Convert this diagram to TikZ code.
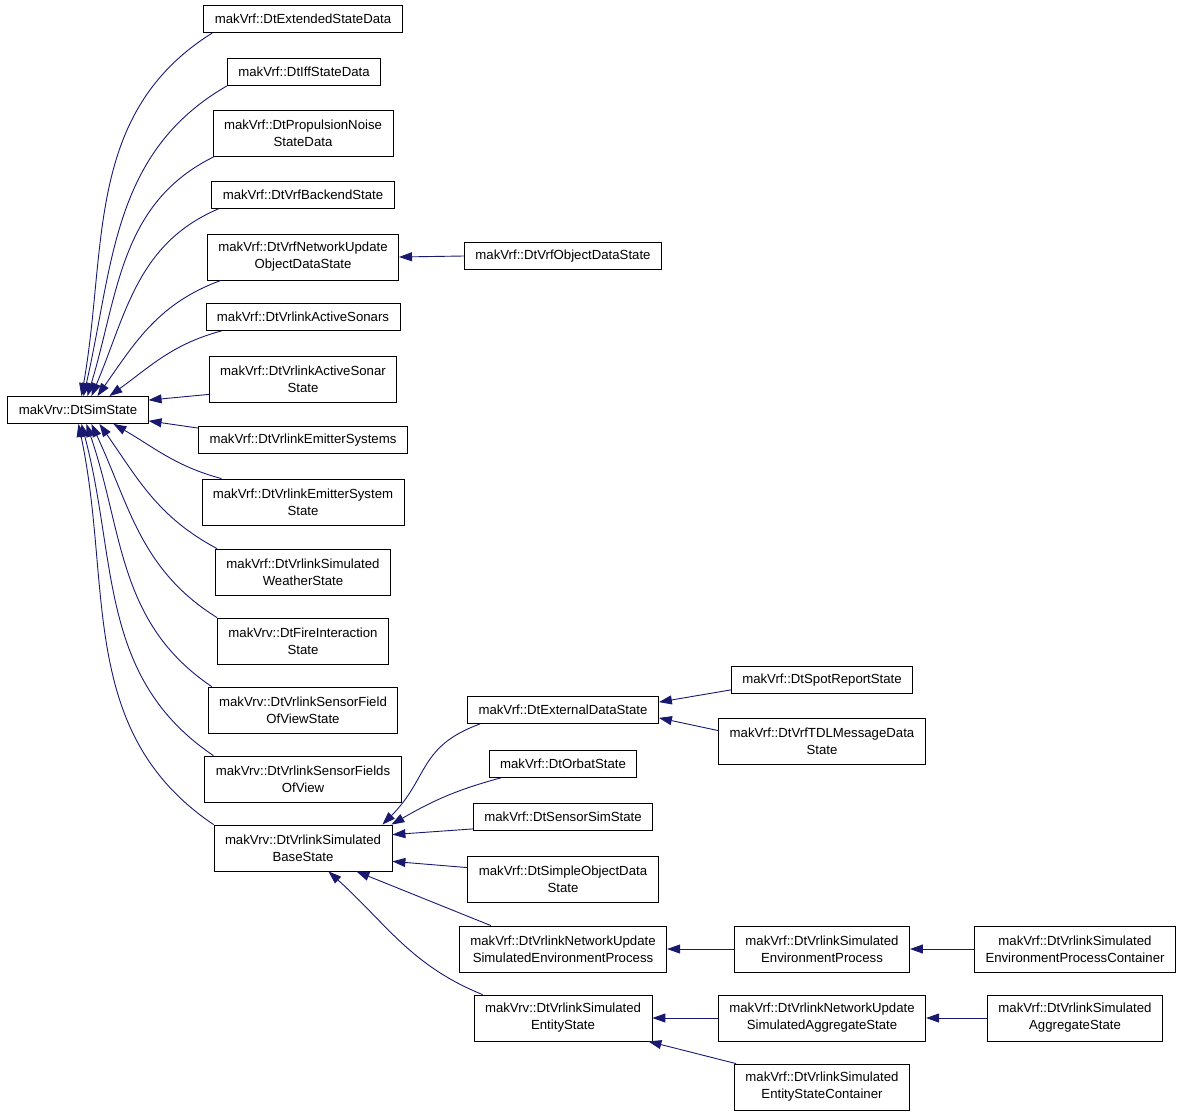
\documentclass[tikz,border=0pt]{standalone}
\usepackage{fontspec}
\setmainfont{Liberation Sans}
\usetikzlibrary{arrows.meta}
\definecolor{edgeblue}{RGB}{25,25,112}

\begin{document}
\begin{tikzpicture}[x=1pt,y=1pt]
\tikzstyle{cls}=[draw=black,line width=0.8pt,fill=white,inner xsep=11pt,inner ysep=0pt,
  minimum height=27pt,align=center,font=\fontsize{13.2}{17}\selectfont]
\tikzstyle{cls2}=[cls,minimum height=46pt]
\tikzstyle{inh}=[draw=edgeblue,line width=0.9pt,{Triangle[length=13pt,width=9pt,fill=edgeblue]}-]
\useasboundingbox (0,0) rectangle (1181,-1116);

\node[cls] (sim) at (78,-410) {makVrv::DtSimState};

\node[cls] (ext) at (303,-19) {makVrf::DtExtendedStateData};
\node[cls] (iff) at (304,-72) {makVrf::DtIffStateData};
\node[cls2] (prop) at (303,-133) {makVrf::DtPropulsionNoise\\StateData};
\node[cls] (backend) at (303,-195) {makVrf::DtVrfBackendState};
\node[cls2] (netupd) at (303,-257) {makVrf::DtVrfNetworkUpdate\\ObjectDataState};
\node[cls] (objdata) at (563,-256) {makVrf::DtVrfObjectDataState};
\node[cls] (sonars) at (303,-317) {makVrf::DtVrlinkActiveSonars};
\node[cls2] (sonarst) at (303,-379) {makVrf::DtVrlinkActiveSonar\\State};
\node[cls] (emsys) at (303,-440) {makVrf::DtVrlinkEmitterSystems};
\node[cls2] (emsyst) at (303,-502) {makVrf::DtVrlinkEmitterSystem\\State};
\node[cls2] (weather) at (303,-572) {makVrf::DtVrlinkSimulated\\WeatherState};
\node[cls2] (fire) at (303,-641) {makVrv::DtFireInteraction\\State};
\node[cls2] (sfield) at (303,-710) {makVrv::DtVrlinkSensorField\\OfViewState};
\node[cls2] (sfields) at (303,-779) {makVrv::DtVrlinkSensorFields\\OfView};
\node[cls2] (base) at (303,-848) {makVrv::DtVrlinkSimulated\\BaseState};

\node[cls] (extdata) at (563,-710) {makVrf::DtExternalDataState};
\node[cls] (orbat) at (563,-764) {makVrf::DtOrbatState};
\node[cls] (sensim) at (563,-817) {makVrf::DtSensorSimState};
\node[cls2] (simple) at (563,-879) {makVrf::DtSimpleObjectData\\State};
\node[cls2] (nuenv) at (563,-949) {makVrf::DtVrlinkNetworkUpdate\\SimulatedEnvironmentProcess};
\node[cls2] (entity) at (563,-1018) {makVrv::DtVrlinkSimulated\\EntityState};

\node[cls] (spot) at (822,-680) {makVrf::DtSpotReportState};
\node[cls2] (tdl) at (822,-741) {makVrf::DtVrfTDLMessageData\\State};
\node[cls2] (envproc) at (822,-949) {makVrf::DtVrlinkSimulated\\EnvironmentProcess};
\node[cls2] (netagg) at (822,-1018) {makVrf::DtVrlinkNetworkUpdate\\SimulatedAggregateState};
\node[cls2] (cont) at (822,-1087) {makVrf::DtVrlinkSimulated\\EntityStateContainer};
\node[cls2] (envcont) at (1075,-949) {makVrf::DtVrlinkSimulated\\EnvironmentProcessContainer};
\node[cls2] (agg) at (1075,-1018) {makVrf::DtVrlinkSimulated\\AggregateState};

% edges into DtSimState
\draw[inh] ([xshift=74pt]sim.north west) to[out=80,in=212] ([xshift=9pt]ext.south west);
\draw[inh] ([xshift=76pt]sim.north west) to[out=77,in=210] (iff.south west);
\draw[inh] ([xshift=80pt]sim.north west) to[out=73,in=206] ([xshift=2pt]prop.south west);
\draw[inh] ([xshift=84pt]sim.north west) to[out=67,in=203] ([xshift=7pt]backend.south west);
\draw[inh] ([xshift=90pt]sim.north west) to[out=55,in=200] ([xshift=14pt]netupd.south west);
\draw[inh] ([xshift=102pt]sim.north west) to[out=36,in=195] ([xshift=16pt]sonars.south west);
\draw[inh] ([yshift=-4pt]sim.north east) -- ([yshift=8pt]sonarst.south west);
\draw[inh] ([yshift=3pt]sim.south east) -- ([yshift=-2pt]emsys.north west);
\draw[inh] ([xshift=106pt]sim.south west) to[out=-30,in=165] ([xshift=20pt]emsyst.north west);
\draw[inh] ([xshift=92pt]sim.south west) to[out=-55,in=152] ([xshift=2pt]weather.north west);
\draw[inh] ([xshift=84pt]sim.south west) to[out=-65,in=148] (fire.north west);
\draw[inh] ([xshift=79pt]sim.south west) to[out=-71,in=146] ([xshift=4pt]sfield.north west);
\draw[inh] ([xshift=74pt]sim.south west) to[out=-75,in=146] ([xshift=9pt]sfields.north west);
\draw[inh] ([xshift=71pt]sim.south west) to[out=-78,in=146] (base.north west);

\draw[inh] (netupd.east) -- (objdata.west);

% edges into BaseState
\draw[inh] ([xshift=-10pt]base.north east) to[out=45,in=200,looseness=1.2] ([xshift=13pt]extdata.south west);
\draw[inh] ([xshift=-1pt]base.north east) to[out=30,in=195] ([xshift=12pt]orbat.south west);
\draw[inh] ([yshift=-10pt]base.north east) -- ([yshift=2pt]sensim.south west);
\draw[inh] ([yshift=10pt]base.south east) -- ([yshift=-12pt]simple.north west);
\draw[inh] ([xshift=-36pt]base.south east) -- ([xshift=32pt]nuenv.north west);
\draw[inh] ([xshift=-64pt]base.south east) to[out=-42,in=158] ([xshift=9pt]entity.north west);

\draw[inh] ([yshift=-6pt]extdata.north east) -- ([yshift=4pt]spot.south west);
\draw[inh] ([yshift=6pt]extdata.south east) -- ([yshift=-13pt]tdl.north west);
\draw[inh] (nuenv.east) -- (envproc.west);
\draw[inh] (envproc.east) -- (envcont.west);
\draw[inh] (entity.east) -- (netagg.west);
\draw[inh] (netagg.east) -- (agg.west);
\draw[inh] ([xshift=-4pt]entity.south east) -- ([xshift=2pt]cont.north west);
\end{tikzpicture}
\end{document}
